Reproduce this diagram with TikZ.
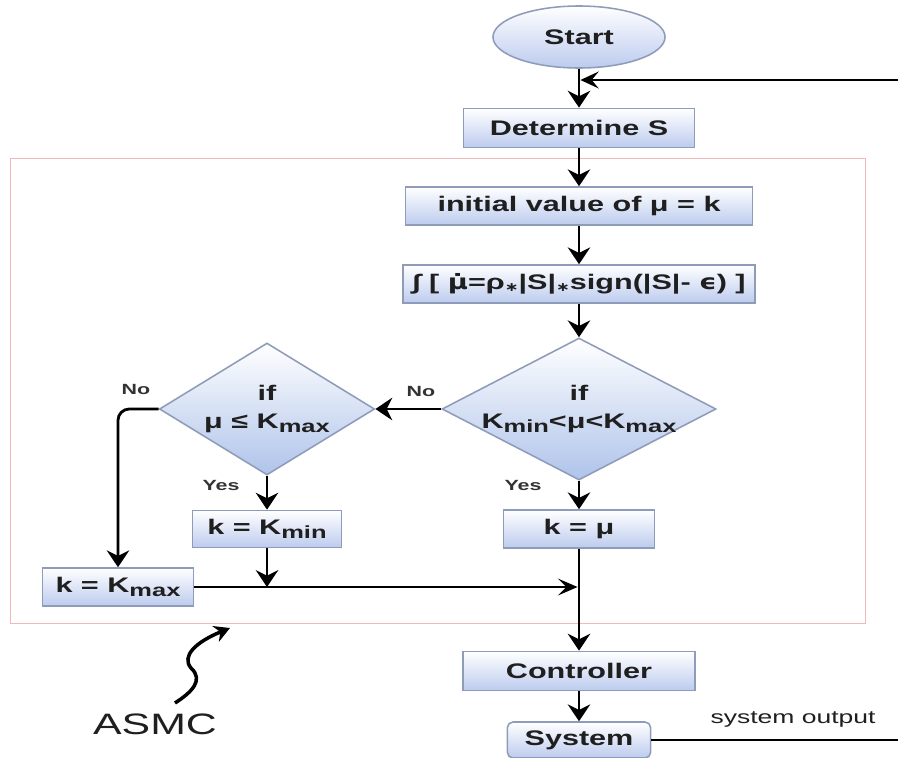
\documentclass[tikz,border=0pt]{standalone}
\usepackage{fontspec}
\setmainfont{Liberation Sans}[FakeStretch=1.45]
\newfontfamily\symfont{DejaVu Sans}[FakeStretch=1.3]
\usetikzlibrary{shapes.geometric,arrows.meta}
\definecolor{boxblue}{HTML}{BCCBEE}
\definecolor{diablue}{HTML}{AFC3EA}
\definecolor{boxedge}{HTML}{8F9CB9}
\definecolor{framepink}{HTML}{F4B8B8}
\newcommand{\subtx}[1]{\raisebox{-0.35ex}{\fontsize{12.5}{12.5}\selectfont #1}}
\newcommand{\dtext}[2]{\makebox[0pt]{\begin{tabular}{@{}c@{}}#1\\#2\end{tabular}}}
\newcommand{\tinystar}{\raisebox{-0.2ex}{\symfont\fontsize{9}{9}\selectfont ∗}}

\begin{document}
\begin{tikzpicture}
  [x=0.025cm,y=-0.025cm,
   every node/.style={font=\fontsize{15}{20}\selectfont\bfseries,text=black!88},
   stepbox/.style={rectangle,draw=boxedge,line width=1.1pt,top color=white,bottom color=boxblue,inner sep=0pt},
   decision/.style={diamond,draw=boxedge,line width=1.1pt,top color=white,bottom color=diablue,inner sep=0pt},
   flow/.style={line width=2pt,-{Stealth[length=12pt,width=16pt,inset=4pt]}},
   note/.style={font=\fontsize{10.5}{12}\selectfont\bfseries,text=black!80}]
\useasboundingbox (0,0) rectangle (898,757);

% ASMC frame
\draw[framepink,line width=0.7pt] (10,158) rectangle (865,623);

\node (start)[ellipse,draw=boxedge,line width=1.1pt,top color=white,bottom color=boxblue,minimum width=4.3cm,minimum height=1.55cm] at (579,37) {Start};
\node (det)[stepbox,minimum width=5.78cm,minimum height=0.98cm] at (579,128) {Determine S};
\node (init)[stepbox,minimum width=8.68cm,minimum height=0.95cm] at (579,206) {initial value of μ = k};
\node (integ)[stepbox,minimum width=8.8cm,minimum height=0.95cm] at (579,284) {∫ [ {\symfont μ̇}=ρ\tinystar|S|\tinystar sign(|S|- {\symfont ϵ}) ]};
\node (chk)[decision,minimum width=6.85cm,minimum height=3.55cm] at (579,409) {\dtext{if}{K\subtx{min}<μ<K\subtx{max}}};
\node (lim)[decision,minimum width=5.38cm,minimum height=3.3cm] at (267,409) {\dtext{if}{μ ≤ K\subtx{max}}};
\node (kmin)[stepbox,minimum width=3.73cm,minimum height=0.93cm] at (267,529) {k = K\subtx{min}};
\node (kmu)[stepbox,minimum width=3.78cm,minimum height=0.95cm] at (579,529) {k = μ};
\node (kmax)[stepbox,minimum width=3.78cm,minimum height=0.95cm] at (118,587) {k = K\subtx{max}};
\node (ctrl)[stepbox,minimum width=5.8cm,minimum height=0.98cm] at (579,671) {Controller};
\node (sys)[stepbox,rounded corners=4pt,minimum width=3.58cm,minimum height=0.9cm] at (579,740) {System};

\node (no1)[note] at (421,391) {No};
\node (no2)[note] at (136,389) {No};
\node (yes1)[note] at (221,485) {Yes};
\node (yes2)[note] at (523,485) {Yes};
\node (outlbl)[font=\fontsize{13}{15}\selectfont] at (793,719) {system output};
\node (asmc)[font=\fontsize{21}{24}\selectfont] at (155,724) {ASMC};

\coordinate (fb) at (579,80);
\coordinate (fbin) at (898,80);
\coordinate (mrg) at (579,587);
\coordinate (out) at (898,740);

\draw[line width=2pt] (start) -- (fb);
\draw[flow] (fb) -- (det);
\draw[line width=1.4pt,shorten >=1pt,-{Stealth[length=13pt,width=12pt,inset=5pt]}] (fbin) -- (fb);
\path[flow] (det) edge (init)
  (init) edge (integ)
  (integ) edge (chk)
  (chk) edge (kmu)
  (chk) edge (lim)
  (lim) edge (kmin);
\draw[flow,rounded corners=8pt] (lim.west) -| (kmax.north);
\draw[flow] (kmin) -- (kmin |- mrg);
\draw[line width=2pt,shorten >=1pt,-{Stealth[length=14pt,width=12pt,inset=6pt]}] (kmax) -- (mrg);
\draw[flow] (kmu) -- (ctrl);
\draw[flow] (ctrl) -- (sys);
\draw[line width=1.4pt] (sys) -- (out);

% squiggly pointer to the frame
\draw[line width=2.5pt,-{Stealth[length=11pt,width=12pt]}] (175,703) .. controls (192,692) and (204,680) .. (191,668)
  .. controls (181,656) and (196,642) .. (230,628);
\end{tikzpicture}
\end{document}
